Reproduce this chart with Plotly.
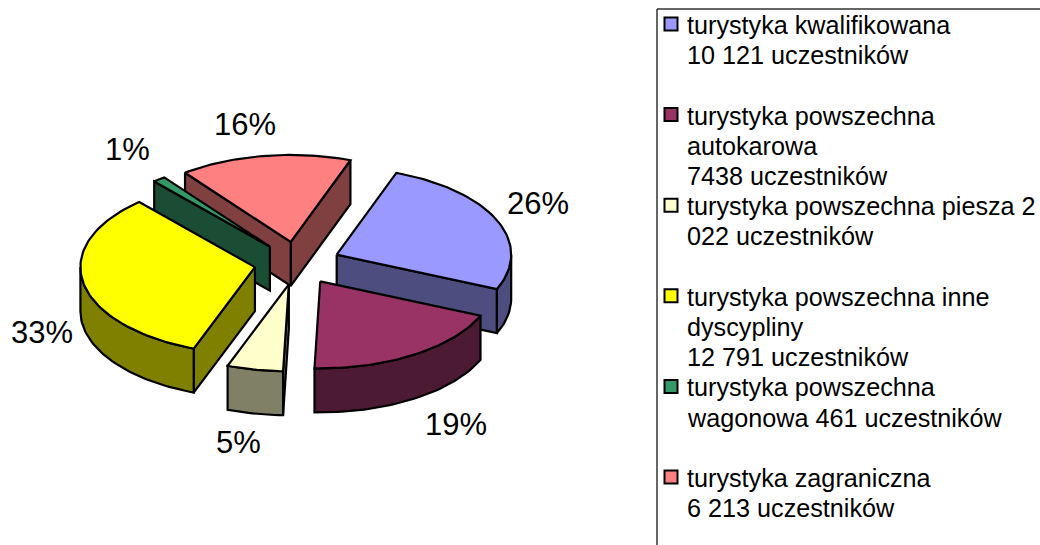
import math
import plotly.graph_objects as go

# --- data ---
categories = [
    "turystyka kwalifikowana",
    "turystyka powszechna autokarowa",
    "turystyka powszechna piesza",
    "turystyka powszechna inne dyscypliny",
    "turystyka powszechna wagonowa",
    "turystyka zagraniczna",
]
participants = [10121, 7438, 2022, 12791, 461, 6213]
legend_lines = [
    ["turystyka kwalifikowana", "10 121 uczestników"],
    ["turystyka powszechna", "autokarowa", "7438 uczestników"],
    ["turystyka powszechna piesza 2", "022 uczestników"],
    ["turystyka powszechna inne", "dyscypliny", "12 791 uczestników"],
    ["turystyka powszechna", "wagonowa 461 uczestników"],
    ["turystyka zagraniczna", "6 213 uczestników"],
]

# --- style ---
top_colors = ["#9999FF", "#993366", "#FFFFCC", "#FFFF00", "#339966", "#FF8080"]
side_colors = ["#4D4D80", "#4D1A33", "#808066", "#808000", "#1A4D33", "#804040"]
label_radius = [262, 268, 272, 259, 268, 280]   # distance of the % label from pie centre
label_shift_x = [0, 15, -6, -1, 0, -10]
label_shift_y = [-8, 48, 46, 46, -10, 0]
paint_order = [5, 0, 4, 3, 2, 1]                # back to front
legend_line_rows = [0, 3, 6, 9, 12, 15]

CX, CY = 297.2, 263.2
RX, RY = 174.5, 87.0
EXPLODE_X, EXPLODE_Y = 43.0, 21.5
DEPTH = 44.0
START_DEG = 20.0
LINE = 2.2
FONT = "Liberation Sans, Arial, sans-serif"

total = sum(participants)


def pt(ox, oy, deg, dy=0.0):
    a = math.radians(deg)
    return ox + RX * math.sin(a), oy - RY * math.cos(a) + dy


def poly(xs, ys, fill):
    return go.Scatter(
        x=xs, y=ys, mode="lines", fill="toself", fillcolor=fill,
        line=dict(color="black", width=LINE), hoverinfo="skip", showlegend=False,
    )


def arc(ox, oy, a0, a1, dy=0.0):
    n = max(2, int(abs(a1 - a0) / 1.5) + 2)
    p = [pt(ox, oy, a0 + (a1 - a0) * i / (n - 1), dy) for i in range(n)]
    return [q[0] for q in p], [q[1] for q in p]


fig = go.Figure()

# slice angles
angles = []
cur = START_DEG
for v in participants:
    span = v / total * 360
    angles.append((cur, cur + span))
    cur += span

for i in paint_order:
    a0, a1 = angles[i]
    mid = math.radians((a0 + a1) / 2)
    ox = CX + EXPLODE_X * math.sin(mid)
    oy = CY - EXPLODE_Y * math.cos(mid)
    faces = []
    # radial cut faces
    for deg, sign in ((a0, -1), (a1, 1)):
        ex, ey = pt(ox, oy, deg)
        # visible only when the outward normal of the cut points towards the viewer
        normal_y = sign * math.sin(math.radians(deg))
        if normal_y > 0:
            faces.append(((oy + ey) / 2, [ox, ex, ex, ox, ox],
                          [oy, ey, ey + DEPTH, oy + DEPTH, oy]))
    # outer wall: the part of the rim on the front half
    for lo, hi in ((90, 270), (450, 630)):
        w0, w1 = max(a0, lo), min(a1, hi)
        if w1 > w0:
            xt, yt = arc(ox, oy, w0, w1)
            xb, yb = arc(ox, oy, w1, w0, DEPTH)
            faces.append((max(yt), xt + xb + [xt[0]], yt + yb + [yt[0]]))
    for _, xs, ys in sorted(faces, key=lambda f: f[0]):
        fig.add_trace(poly(xs, ys, side_colors[i]))
    # top face
    xa, ya = arc(ox, oy, a0, a1)
    fig.add_trace(poly([ox] + xa + [ox], [oy] + ya + [oy], top_colors[i]))

# percentage labels
annotations = []
for i, v in enumerate(participants):
    a0, a1 = angles[i]
    mid = math.radians((a0 + a1) / 2)
    annotations.append(dict(
        x=CX + label_radius[i] * math.sin(mid) + label_shift_x[i],
        y=CY - label_radius[i] * 0.5 * math.cos(mid) + label_shift_y[i],
        text=f"{round(v / total * 100)}%", showarrow=False,
        xanchor="center", yanchor="middle",
        font=dict(family=FONT, size=31, color="black"),
    ))

# legend
LEG_X, LEG_FIRST, LEG_STEP = 685, 25, 30.2
swatch_x, swatch_y = [], []
for i, row in enumerate(legend_line_rows):
    for j, line in enumerate(legend_lines[i]):
        annotations.append(dict(
            x=LEG_X, y=LEG_FIRST + (row + j) * LEG_STEP, text=line, showarrow=False,
            xanchor="left", yanchor="middle", align="left",
            font=dict(family=FONT, size=25.2, color="black"),
        ))
    swatch_x.append(671)
    swatch_y.append(24 + row * LEG_STEP)

fig.add_trace(go.Scatter(
    x=swatch_x, y=swatch_y, mode="markers",
    marker=dict(symbol="square", size=13, color=top_colors,
                line=dict(color="black", width=2)),
    hoverinfo="skip", showlegend=False,
))

fig.update_layout(
    width=1040, height=545, margin=dict(l=0, r=0, t=0, b=0),
    paper_bgcolor="white", plot_bgcolor="white", showlegend=False,
    xaxis=dict(range=[0, 1040], visible=False, fixedrange=True),
    yaxis=dict(range=[545, 0], visible=False, fixedrange=True),
    annotations=annotations,
    shapes=[dict(type="line", x0=657, x1=657, y0=9, y1=560, line=dict(color="#333333", width=1.5)),
            dict(type="line", x0=657, x1=1060, y0=9, y1=9, line=dict(color="#333333", width=1.5))],
)
fig.write_html("out.html", config={"displayModeBar": False},
               post_script="document.body.style.margin='0';")
